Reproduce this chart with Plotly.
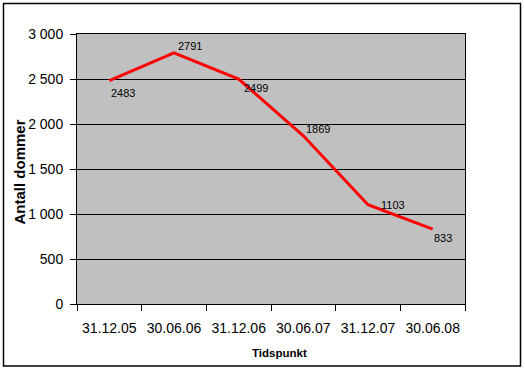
import plotly.graph_objects as go

categories = ["31.12.05", "30.06.06", "31.12.06", "30.06.07", "31.12.07", "30.06.08"]
values = [2483, 2791, 2499, 1869, 1103, 833]
y_ticks = [0, 500, 1000, 1500, 2000, 2500, 3000]
y_tick_labels = ["0", "500", "1 000", "1 500", "2 000", "2 500", "3 000"]

# label offsets (pixels) for the data labels, style only
label_xshift = [0, 2, 3, 1, 11, -1]
label_yshift = [-12, 7, -9, 7, 0, -9]

FONT = "Liberation Sans, Arial, sans-serif"

fig = go.Figure()
fig.add_trace(go.Scatter(
    x=categories, y=values, mode="lines",
    line=dict(color="#FF0000", width=3),
    hoverinfo="skip", showlegend=False,
))

for c, v, dx, dy in zip(categories, values, label_xshift, label_yshift):
    fig.add_annotation(
        x=c, y=v, xref="x", yref="y", text=str(v), showarrow=False,
        xanchor="left", yanchor="middle", xshift=dx, yshift=dy,
        font=dict(family=FONT, size=11, color="black"),
    )

# plot area: x 77..465, y 34..304
L, R, T, B = 77, 465, 34, 304
W, H = R - L, B - T

def px(xp):
    return (xp - L) / W

def py(yp):
    return (B - yp) / H

fig.add_annotation(
    x=px(279), y=py(353), xref="paper", yref="paper", text="<b>Tidspunkt</b>",
    showarrow=False, xanchor="center", yanchor="middle",
    font=dict(family=FONT, size=11.5, color="black"),
)
fig.add_annotation(
    x=px(18.5), y=py(172), xref="paper", yref="paper", text="<b>Antall dommer</b>",
    showarrow=False, xanchor="center", yanchor="middle", textangle=-90,
    font=dict(family=FONT, size=15, color="black"),
)

# outer chart border
fig.add_shape(
    type="rect", xref="paper", yref="paper",
    x0=px(3.5), x1=px(520.5), y0=py(366), y1=py(3.5),
    line=dict(color="black", width=1.5), fillcolor="rgba(0,0,0,0)", layer="below",
)

fig.update_layout(
    width=525, height=371,
    margin=dict(l=L, r=525 - R, t=T, b=371 - B, autoexpand=False),
    paper_bgcolor="white", plot_bgcolor="#C0C0C0",
    font=dict(family=FONT, size=14, color="black"),
    showlegend=False,
)
fig.update_xaxes(
    type="category", tickson="boundaries", ticks="outside", ticklen=6,
    tickcolor="black", tickwidth=1, showline=True, linecolor="black", linewidth=1,
    mirror=True, showgrid=False, tickfont=dict(family=FONT, size=14),
    range=[-0.5, 5.5], ticklabelstandoff=11,
)
fig.update_yaxes(
    range=[0, 3000], tickvals=y_ticks, ticktext=y_tick_labels,
    ticks="outside", ticklen=6, tickcolor="black", tickwidth=1,
    showline=True, linecolor="black", linewidth=1, mirror=True,
    showgrid=True, gridcolor="black", gridwidth=1, zeroline=False,
    tickfont=dict(family=FONT, size=14), ticklabelstandoff=4,
)

fig.write_html(
    "out.html",
    config={"displayModeBar": False, "staticPlot": True},
    post_script="document.body.style.margin='0';document.body.style.overflow='hidden';",
)
